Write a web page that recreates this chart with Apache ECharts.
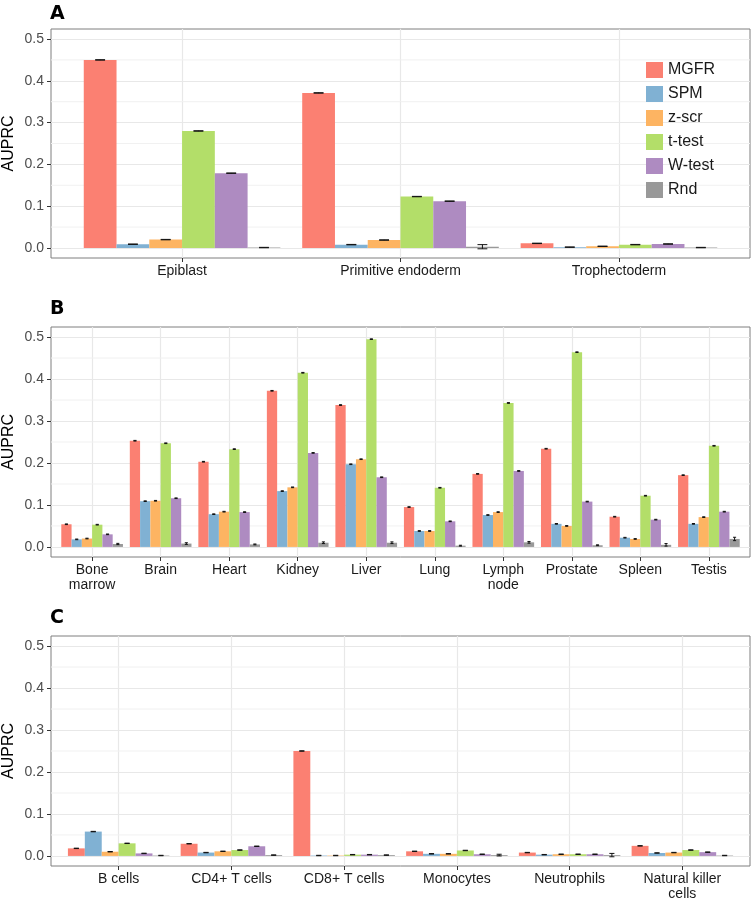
<!DOCTYPE html>
<html>
<head>
<meta charset="utf-8">
<script src="https://cdn.jsdelivr.net/npm/echarts@6/dist/echarts.min.js"></script>
<style>
html,body{margin:0;padding:0;background:#fff;}
#chart{width:753px;height:902px;}
</style>
</head>
<body>
<div id="chart"></div>
<script>
// ---- data ----
const METHODS = ['MGFR', 'SPM', 'z-scr', 't-test', 'W-test', 'Rnd'];
const COLORS = ['#FB8072', '#80B1D3', '#FDB462', '#B3DE69', '#AE8BC1', '#999999'];

const Y_MAJOR = [0, 0.1, 0.2, 0.3, 0.4, 0.5];
const Y_MINOR = [0.05, 0.15, 0.25, 0.35, 0.45];

// Panel A
const catsA = ['Epiblast', 'Primitive endoderm', 'Trophectoderm'];
const mgfrA  = [0.450, 0.371, 0.011];
const spmA   = [0.009, 0.008, 0.002];
const zscrA  = [0.020, 0.019, 0.004];
const ttestA = [0.280, 0.123, 0.008];
const wtestA = [0.179, 0.112, 0.0095];
const rndA   = [0.001, 0.003, 0.001];
const errSmallA = [0.0005, 0.0005, 0.0005];
const errRndA   = [0.0005, 0.005, 0.0005];

// Panel B
const catsB = ['Bone\nmarrow', 'Brain', 'Heart', 'Kidney', 'Liver', 'Lung', 'Lymph\nnode', 'Prostate', 'Spleen', 'Testis'];
const mgfrB  = [0.054, 0.253, 0.203, 0.372, 0.338, 0.095, 0.174, 0.234, 0.072, 0.171];
const spmB   = [0.018, 0.109, 0.078, 0.133, 0.197, 0.038, 0.076, 0.055, 0.022, 0.055];
const zscrB  = [0.020, 0.110, 0.084, 0.142, 0.209, 0.038, 0.083, 0.050, 0.019, 0.071];
const ttestB = [0.053, 0.247, 0.233, 0.415, 0.495, 0.141, 0.343, 0.464, 0.122, 0.241];
const wtestB = [0.030, 0.116, 0.083, 0.224, 0.166, 0.061, 0.181, 0.108, 0.065, 0.084];
const rndB   = [0.007, 0.008, 0.006, 0.010, 0.010, 0.003, 0.011, 0.004, 0.005, 0.019];
const errSmallB = [0.0008, 0.0008, 0.0008, 0.0008, 0.0008, 0.0008, 0.0008, 0.0008, 0.0008, 0.0008];
const errRndB   = [0.0015, 0.002, 0.001, 0.002, 0.002, 0.001, 0.002, 0.001, 0.003, 0.004];

// Panel C
const catsC = ['B cells', 'CD4+ T cells', 'CD8+ T cells', 'Monocytes', 'Neutrophils', 'Natural killer\ncells'];
const mgfrC  = [0.018, 0.029, 0.250, 0.011, 0.008, 0.024];
const spmC   = [0.058, 0.008, 0.001, 0.005, 0.003, 0.007];
const zscrC  = [0.010, 0.011, 0.001, 0.005, 0.004, 0.008];
const ttestC = [0.030, 0.014, 0.003, 0.013, 0.004, 0.014];
const wtestC = [0.006, 0.023, 0.003, 0.004, 0.004, 0.009];
const rndC   = [0.001, 0.002, 0.002, 0.002, 0.002, 0.001];
const errSmallC = [0.0005, 0.0005, 0.0005, 0.0005, 0.0005, 0.0005];
const errRndC   = [0.0005, 0.0005, 0.0005, 0.002, 0.004, 0.0005];

const PANELS = [
  { label: 'A', cats: catsA, values: [mgfrA, spmA, zscrA, ttestA, wtestA, rndA],
    errs: [errSmallA, errSmallA, errSmallA, errSmallA, errSmallA, errRndA] },
  { label: 'B', cats: catsB, values: [mgfrB, spmB, zscrB, ttestB, wtestB, rndB],
    errs: [errSmallB, errSmallB, errSmallB, errSmallB, errSmallB, errRndB] },
  { label: 'C', cats: catsC, values: [mgfrC, spmC, zscrC, ttestC, wtestC, rndC],
    errs: [errSmallC, errSmallC, errSmallC, errSmallC, errSmallC, errRndC] }
];

// ---- layout / style ----
const GRID_POS = [
  { left: 51, right: 3, top: 29, height: 229 },
  { left: 51, right: 3, top: 327, height: 230 },
  { left: 51, right: 3, top: 636, height: 230 }
];
const TITLE_TOP = [5, 300, 609];
const DODGE = 0.15;     // width of each dodged bar (category units)
const CAP = 0.045;      // error bar cap width
const FONT = "'Liberation Sans', Arial, sans-serif";

const chart = echarts.init(document.getElementById('chart'), null, { renderer: 'canvas' });

const grids = [], xAxes = [], yAxes = [], series = [], titles = [];

PANELS.forEach((p, pi) => {
  const n = p.cats.length;
  const centers = p.cats.map((c, i) => i + 1);
  grids.push(Object.assign({ show: true, borderColor: '#7f7f7f', borderWidth: 1, backgroundColor: '#fff',
    containLabel: false, outerBoundsMode: 'none' }, GRID_POS[pi]));
  titles.push({ text: p.label, left: 50, top: TITLE_TOP[pi], padding: 0,
    textStyle: { fontFamily: "'DejaVu Sans', sans-serif", fontWeight: 900, fontSize: 19, color: '#000' } });
  xAxes.push({
    type: 'value', gridIndex: pi, min: 0.4, max: n + 0.6,
    axisLine: { show: false, onZero: false },
    axisTick: { show: true, length: 4, customValues: centers, lineStyle: { color: '#333', width: 1 } },
    axisLabel: { customValues: centers, margin: 6, fontSize: 14, fontFamily: FONT, color: '#1a1a1a', lineHeight: 15,
      formatter: v => p.cats[Math.round(v) - 1] || '' },
    splitLine: { show: true, lineStyle: { color: '#e8e8e8', width: 1.2 } }
  });
  yAxes.push({
    type: 'value', gridIndex: pi, min: -0.024, max: 0.524,
    name: 'AUPRC', nameLocation: 'middle', nameRotate: 90, nameGap: 34, nameMoveOverlap: false,
    nameTextStyle: { fontSize: 16, fontFamily: FONT, color: '#000' },
    axisLine: { show: false, onZero: false },
    axisTick: { show: true, length: 4, customValues: Y_MAJOR, lineStyle: { color: '#333', width: 1 } },
    axisLabel: { customValues: Y_MAJOR, margin: 7, fontSize: 14, fontFamily: FONT, color: '#4d4d4d',
      formatter: v => v.toFixed(1) },
    splitLine: { show: true, lineStyle: { color: '#e8e8e8', width: 1.2 } }
  });
  // minor horizontal grid lines
  series.push({
    type: 'custom', xAxisIndex: pi, yAxisIndex: pi, silent: true, z: 1,
    data: Y_MINOR.map(y => [1, y]), encode: { x: 0, y: 1 },
    renderItem: function (params, api) {
      const y = api.coord([api.value(0), api.value(1)])[1];
      const cs = params.coordSys;
      return { type: 'line', shape: { x1: cs.x, y1: y, x2: cs.x + cs.width, y2: y },
        style: { stroke: '#f1f1f1', lineWidth: 1 } };
    }
  });
  // bars + error bars
  METHODS.forEach((m, k) => {
    const data = p.values[k].map((v, i) => [i + 1, v, p.errs[k][i]]);
    series.push({
      type: 'custom', name: m, xAxisIndex: pi, yAxisIndex: pi, z: 3,
      itemStyle: { color: COLORS[k] },
      data: data, encode: { x: 0, y: 1 },
      renderItem: function (params, api) {
        const xc = api.value(0) + (k - 2.5) * DODGE;
        const v = api.value(1), e = api.value(2);
        const p0 = api.coord([xc - DODGE / 2, 0]);
        const p1 = api.coord([xc + DODGE / 2, v]);
        const pl = api.coord([xc - CAP / 2, v + e]);
        const pr = api.coord([xc + CAP / 2, v - e]);
        const ex = api.coord([xc, v])[0];
        const lineStyle = { stroke: '#111', lineWidth: 1 };
        return {
          type: 'group',
          children: [
            { type: 'rect', shape: { x: p0[0], y: p1[1], width: p1[0] - p0[0], height: p0[1] - p1[1] },
              style: { fill: COLORS[k] } },
            { type: 'line', shape: { x1: ex, y1: pl[1], x2: ex, y2: pr[1] }, style: lineStyle },
            { type: 'line', shape: { x1: pl[0], y1: pl[1], x2: pr[0], y2: pl[1] }, style: lineStyle },
            { type: 'line', shape: { x1: pl[0], y1: pr[1], x2: pr[0], y2: pr[1] }, style: lineStyle }
          ]
        };
      }
    });
  });
});

chart.setOption({
  animation: false,
  backgroundColor: '#fff',
  title: titles,
  grid: grids,
  xAxis: xAxes,
  yAxis: yAxes,
  legend: {
    data: METHODS, orient: 'vertical', left: 646, top: 62, padding: 0,
    icon: 'rect', itemWidth: 17, itemHeight: 16, itemGap: 8,
    selectedMode: false,
    textStyle: { fontSize: 16, fontFamily: FONT, color: '#1a1a1a', padding: [0, 0, 0, 0] }
  },
  series: series
});
</script>
</body>
</html>
